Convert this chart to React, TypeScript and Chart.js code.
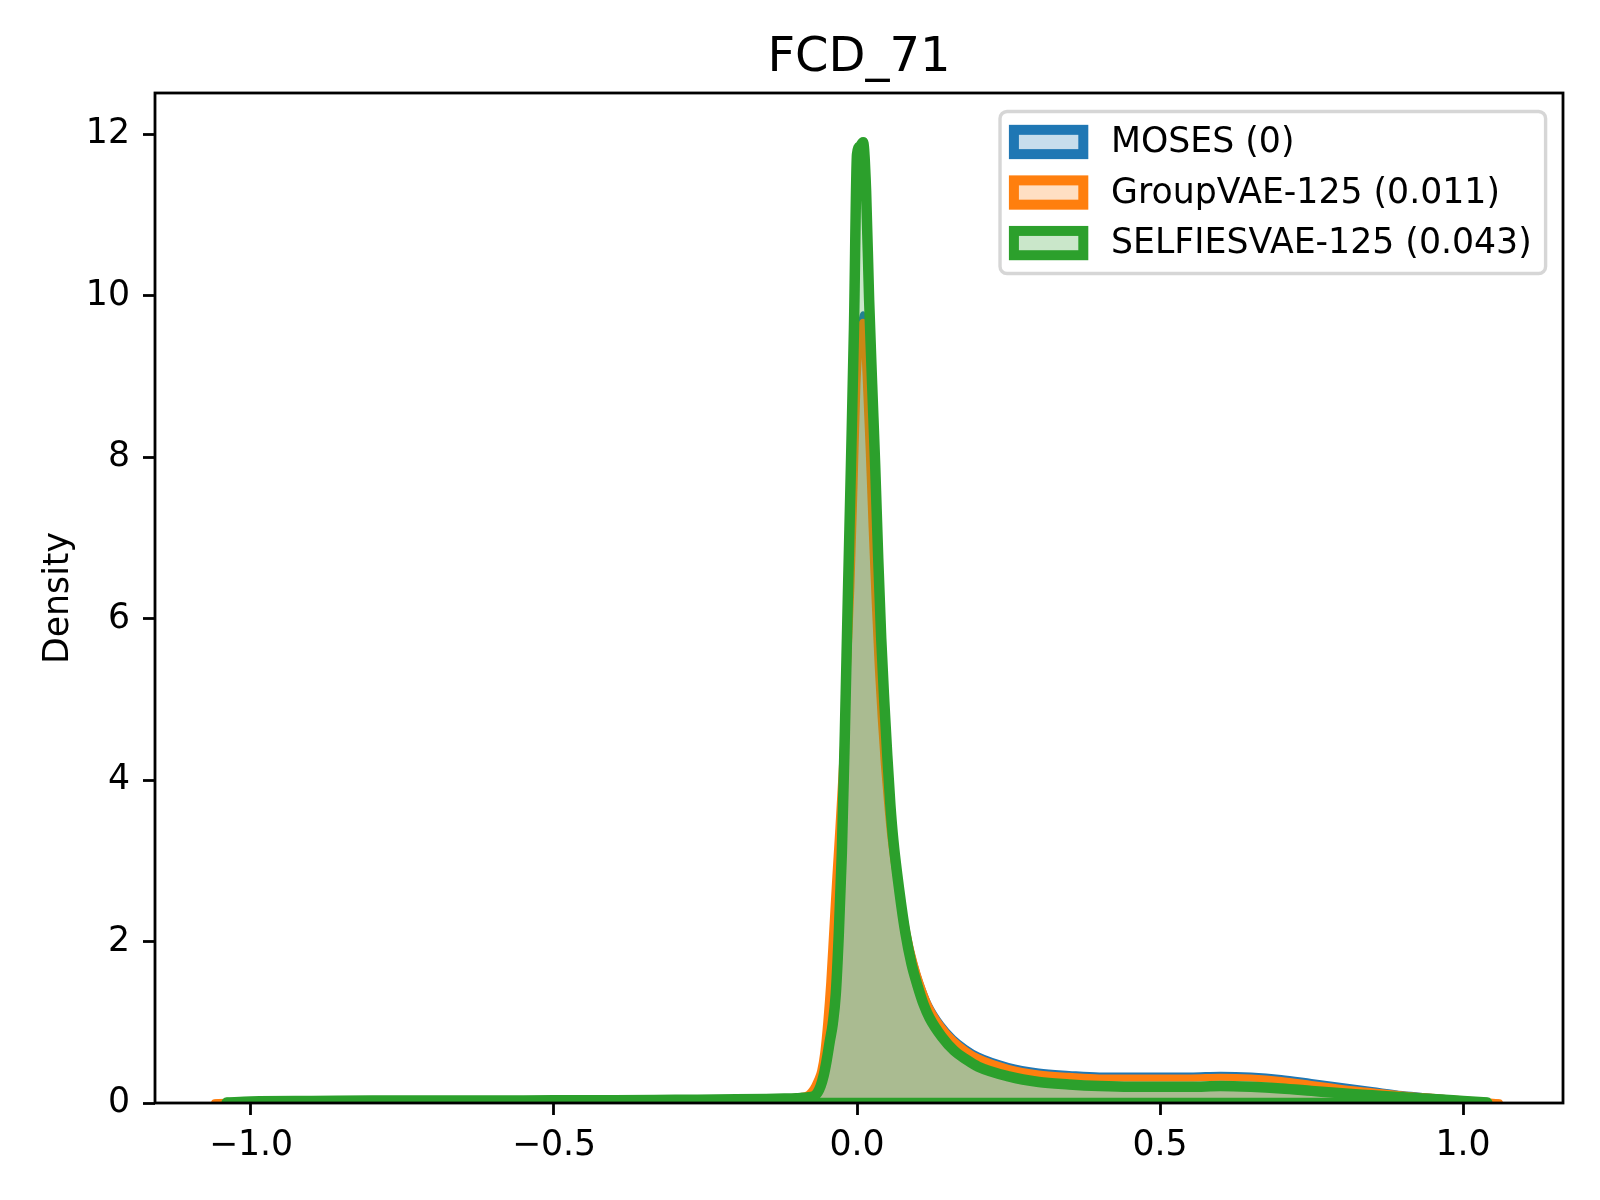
import { useEffect, useRef } from "react"
import { Chart, registerables } from "chart.js"

Chart.register(...registerables)

// x grid shared by the three density curves
const xs = [
  -1.06, -1.04, -1.0, -0.9, -0.8, -0.7, -0.6, -0.5, -0.4, -0.3,
  -0.2, -0.15, -0.12, -0.1, -0.09, -0.08, -0.075, -0.07, -0.065, -0.06,
  -0.055, -0.05, -0.045, -0.04, -0.035, -0.03, -0.025, -0.02, -0.015, -0.01,
  -0.005, 0, 0.005, 0.01, 0.015, 0.02, 0.025, 0.03, 0.035, 0.04,
  0.045, 0.05, 0.055, 0.06, 0.07, 0.08, 0.09, 0.1, 0.11, 0.12,
  0.14, 0.16, 0.18, 0.2, 0.25, 0.3, 0.35, 0.4, 0.45, 0.5,
  0.55, 0.6, 0.65, 0.7, 0.75, 0.8, 0.85, 0.9, 0.95, 1.0,
  1.04, 1.06,
]

const mosesDensity = [
  0.003, 0.01, 0.025, 0.03, 0.035, 0.035, 0.035, 0.04, 0.04, 0.045,
  0.055, 0.06, 0.065, 0.075, 0.085, 0.11, 0.15, 0.21, 0.29, 0.4,
  0.62, 1.0, 1.5, 2.15, 2.8, 3.4, 4.05, 4.75, 5.5, 6.4,
  7.6, 8.95, 9.6, 9.78, 9.1, 8.15, 7.15, 6.25, 5.45, 4.8,
  4.25, 3.8, 3.4, 3.1, 2.65, 2.25, 1.9, 1.62, 1.4, 1.22,
  0.98, 0.81, 0.69, 0.6, 0.47, 0.4, 0.37, 0.35, 0.35, 0.35,
  0.35, 0.36, 0.35, 0.32, 0.27, 0.22, 0.17, 0.12, 0.085, 0.05,
  0.02, 0.005,
]

const groupVaeDensity = [
  0.003, 0.01, 0.025, 0.03, 0.035, 0.035, 0.035, 0.04, 0.04, 0.045,
  0.055, 0.06, 0.065, 0.075, 0.085, 0.11, 0.15, 0.21, 0.29, 0.4,
  0.62, 1.0, 1.5, 2.15, 2.8, 3.4, 4.05, 4.75, 5.5, 6.4,
  7.6, 8.9, 9.5, 9.67, 9.0, 8.1, 7.1, 6.2, 5.4, 4.75,
  4.2, 3.75, 3.35, 3.05, 2.6, 2.2, 1.85, 1.58, 1.36, 1.18,
  0.94, 0.77, 0.65, 0.56, 0.43, 0.36, 0.33, 0.31, 0.31, 0.31,
  0.31, 0.32, 0.31, 0.28, 0.23, 0.18, 0.14, 0.1, 0.07, 0.04,
  0.015, 0.003,
]

const selfiesVaeDensity = [
  null, 0.005, 0.02, 0.025, 0.03, 0.03, 0.03, 0.035, 0.035, 0.04,
  0.045, 0.05, 0.055, 0.06, 0.065, 0.07, 0.075, 0.09, 0.13, 0.21,
  0.34, 0.53, 0.76, 0.98, 1.35, 2.1, 3.1, 4.6, 6.3, 7.9,
  9.6, 11.75, 11.85, 11.9, 11.3, 9.95, 8.9, 7.9, 6.75, 5.75,
  4.98, 4.3, 3.7, 3.25, 2.62, 2.1, 1.72, 1.45, 1.22, 1.05,
  0.82, 0.65, 0.54, 0.45, 0.33, 0.26, 0.23, 0.21, 0.2, 0.2,
  0.2, 0.21, 0.2, 0.18, 0.15, 0.12, 0.095, 0.07, 0.05, 0.025,
  0.005, null,
]

const seriesLabels = ["MOSES (0)", "GroupVAE-125 (0.011)", "SELFIESVAE-125 (0.043)"]
const xTicks = [-1, -0.5, 0, 0.5, 1]
const yTicks = [0, 2, 4, 6, 8, 10, 12]

const FONT = "DejaVu Sans"
const FS = 34.7

const palette = [
  { line: "#1f77b4", fill: "rgba(31,119,180,0.25)", width: 4.5 },
  { line: "#ff7f0e", fill: "rgba(255,127,14,0.25)", width: 7 },
  { line: "#2ca02c", fill: "rgba(44,160,44,0.25)", width: 10.5 },
]

const fmtX = (v: number) => (v < 0 ? "\u2212" : "") + Math.abs(v).toFixed(1)

// polygon edge along y = 0 (seaborn draws the filled area with an outline)
const baselinePlugin = {
  id: "baselineEdge",
  afterDatasetDraw(chart: any, args: any) {
    const ds = chart.data.datasets[args.index]
    const pts = args.meta.data.filter((p: any) => !p.skip)
    if (!pts.length) return
    const { ctx, chartArea } = chart
    const y0 = chart.scales.y.getPixelForValue(0)
    ctx.save()
    ctx.beginPath()
    ctx.rect(chartArea.left, chartArea.top, chartArea.right - chartArea.left, chartArea.bottom - chartArea.top)
    ctx.clip()
    ctx.beginPath()
    ctx.moveTo(pts[0].x, pts[0].y)
    ctx.lineTo(pts[0].x, y0)
    ctx.lineTo(pts[pts.length - 1].x, y0)
    ctx.lineTo(pts[pts.length - 1].x, pts[pts.length - 1].y)
    ctx.lineWidth = ds.borderWidth
    ctx.strokeStyle = ds.borderColor
    ctx.lineJoin = "round"
    ctx.stroke()
    ctx.restore()
  },
}

const framePlugin = {
  id: "axesFrame",
  afterDatasetsDraw(chart: any) {
    const { ctx, chartArea: a } = chart
    ctx.save()
    ctx.lineWidth = 2.8
    ctx.strokeStyle = "#000"
    ctx.strokeRect(a.left, a.top, a.right - a.left, a.bottom - a.top)
    ctx.restore()
  },
}

const legendPlugin = {
  id: "boxLegend",
  afterDraw(chart: any) {
    const { ctx, chartArea: a } = chart
    const em = FS
    const pad = 0.4 * em
    const handleW = 2 * em
    const handleH = 0.7 * em
    const textPad = 0.8 * em
    const rowH = 33.2
    const gap = 0.5 * em
    ctx.save()
    ctx.font = `${FS}px "${FONT}"`
    const textW = Math.max(...seriesLabels.map((s) => ctx.measureText(s).width))
    const w = pad * 2 + handleW + textPad + textW
    const h = pad * 2 + rowH * 3 + gap * 2
    const right = a.right - 17.4
    const left = right - w
    const top = a.top + 18.5
    ctx.beginPath()
    ctx.roundRect(left, top, w, h, 7)
    ctx.fillStyle = "rgba(255,255,255,0.8)"
    ctx.fill()
    ctx.lineWidth = 3.4
    ctx.strokeStyle = "rgba(204,204,204,0.8)"
    ctx.stroke()
    seriesLabels.forEach((label, i) => {
      const cy = top + pad + rowH / 2 + i * (rowH + gap)
      const hx = left + pad
      ctx.fillStyle = "#fff"
      ctx.fillRect(hx, cy - handleH / 2, handleW, handleH)
      ctx.fillStyle = palette[i].fill
      ctx.fillRect(hx, cy - handleH / 2, handleW, handleH)
      ctx.lineWidth = 10
      ctx.strokeStyle = palette[i].line
      ctx.lineJoin = "miter"
      ctx.strokeRect(hx, cy - handleH / 2, handleW, handleH)
      ctx.fillStyle = "#000"
      ctx.textAlign = "left"
      ctx.textBaseline = "middle"
      ctx.fillText(label, hx + handleW + textPad, cy + 1)
    })
    ctx.restore()
  },
}

export default function App() {
  const chartRef = useRef<HTMLCanvasElement>(null)
  const chartInstance = useRef<Chart | null>(null)

  useEffect(() => {
    document.body.style.margin = "0"
    if (!chartRef.current) return
    if (chartInstance.current) chartInstance.current.destroy()
    const ctx = chartRef.current.getContext("2d")
    if (!ctx) return

    const series = [mosesDensity, groupVaeDensity, selfiesVaeDensity]

    chartInstance.current = new Chart(ctx, {
      type: "line",
      data: {
        datasets: series.map((vals, i) => ({
          label: seriesLabels[i],
          data: xs.map((x, j) => ({ x, y: vals[j] })),
          borderColor: palette[i].line,
          backgroundColor: palette[i].fill,
          borderWidth: palette[i].width,
          fill: "origin",
          order: 2 - i,
          pointRadius: 0,
          cubicInterpolationMode: "monotone",
          borderJoinStyle: "round",
          borderCapStyle: "round",
          spanGaps: false,
          clip: 0,
        })) as any,
      },
      options: {
        animation: false,
        responsive: false,
        devicePixelRatio: 1,
        layout: { padding: { left: 0, right: 37, top: 0, bottom: 0 } },
        plugins: {
          legend: { display: false },
          tooltip: { enabled: false },
          title: {
            display: true,
            fullSize: false,
            text: "FCD_71",
            color: "#000",
            font: { family: FONT, size: 48, weight: "normal", lineHeight: 1.2 },
            padding: { top: 30, bottom: 5.4 },
          },
        },
        scales: {
          x: {
            type: "linear",
            min: -1.1584,
            max: 1.165,
            afterBuildTicks: (axis: any) => {
              axis.ticks = xTicks.map((v) => ({ value: v }))
            },
            afterFit: (s: any) => {
              s.height = 97
            },
            ticks: {
              callback: (v: any) => fmtX(Number(v)),
              color: "#000",
              font: { family: FONT, size: FS },
              padding: 10,
              maxRotation: 0,
              autoSkip: false,
            },
            grid: { drawOnChartArea: false, drawTicks: true, tickLength: 12, tickWidth: 2.8, tickColor: "#000" },
            border: { display: false },
          },
          y: {
            type: "linear",
            min: 0,
            max: 12.51,
            afterBuildTicks: (axis: any) => {
              axis.ticks = yTicks.map((v) => ({ value: v }))
            },
            afterFit: (s: any) => {
              s.width = 155
            },
            ticks: {
              callback: (v: any) => String(v),
              color: "#000",
              font: { family: FONT, size: FS },
              padding: 13,
              autoSkip: false,
            },
            grid: { drawOnChartArea: false, drawTicks: true, tickLength: 12, tickWidth: 2.8, tickColor: "#000" },
            border: { display: false },
            title: {
              display: true,
              text: "Density",
              color: "#000",
              font: { family: FONT, size: FS, lineHeight: 1.2 },
              padding: { top: 38, bottom: 0 },
            },
          },
        },
      },
      plugins: [baselinePlugin, framePlugin, legendPlugin],
    })

    return () => {
      if (chartInstance.current) {
        chartInstance.current.destroy()
        chartInstance.current = null
      }
    }
  }, [])

  return (
    <div style={{ width: 1600, height: 1200, background: "#fff" }}>
      <canvas ref={chartRef} width={1600} height={1200} style={{ display: "block" }}></canvas>
    </div>
  )
}
